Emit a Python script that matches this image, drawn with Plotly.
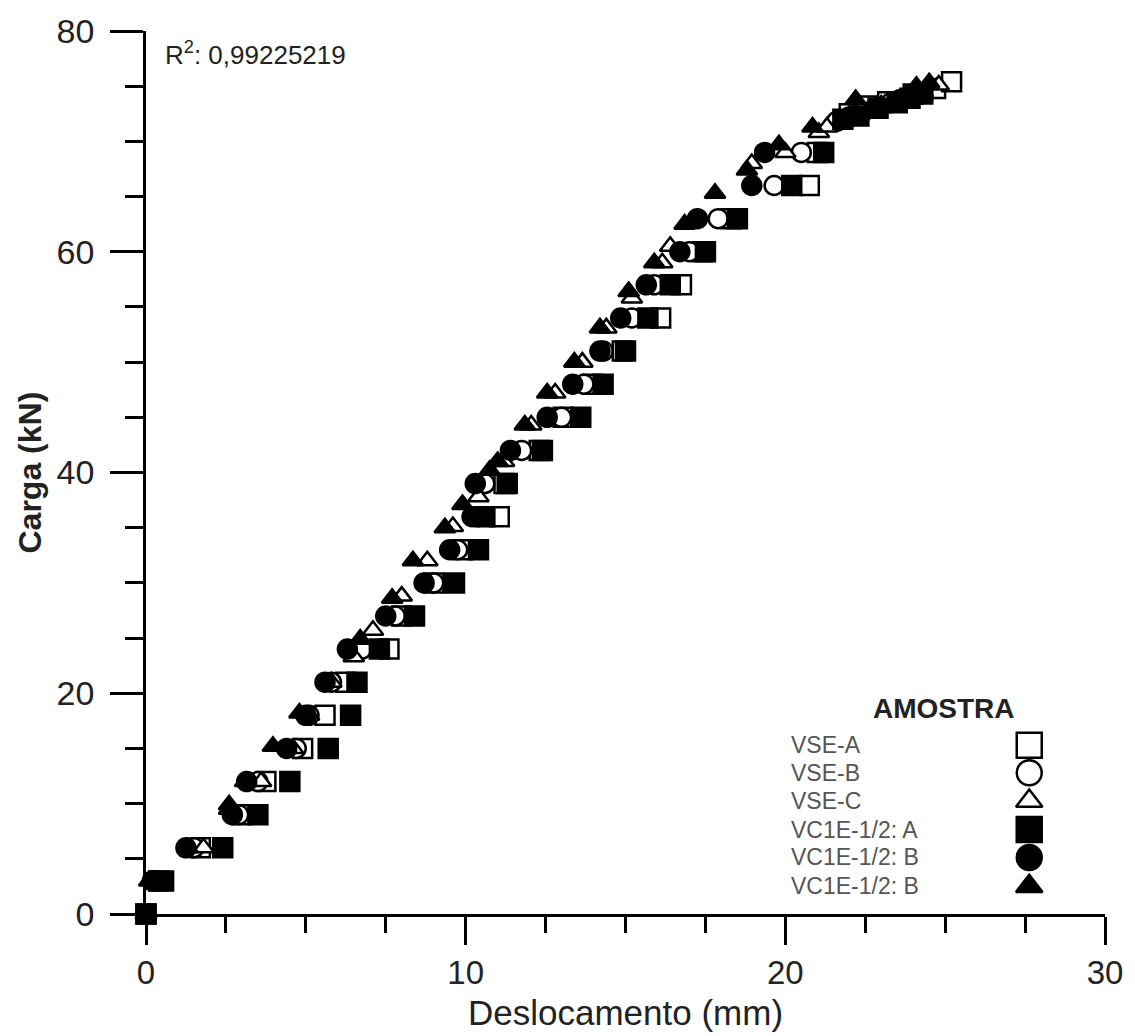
import plotly.graph_objects as go

# ---------------- data ----------------
# VSE-A (open square)
vsea_x = [0, 0.4, 1.7, 3.0, 3.75, 4.9, 5.6, 6.25, 7.6, 8.0, 9.0, 9.9, 11.05, 11.2, 12.3, 13.05, 13.95, 14.9, 16.1, 16.75, 17.4, 18.3, 20.75, 21.0, 22.0, 22.6, 23.2, 24.0, 24.7, 25.2]
vsea_y = [0, 3, 6, 9, 12, 15, 18, 21, 24, 27, 30, 33, 36, 39, 42, 45, 48, 51, 54, 57, 60, 63, 66, 69, 72.5, 73.2, 73.6, 74.3, 74.8, 75.4]

# VSE-B (open circle)
vseb_x = [0, 0.3, 1.5, 2.9, 3.5, 4.7, 5.1, 5.8, 6.75, 7.8, 9.0, 9.75, 10.4, 10.6, 11.75, 13.0, 13.7, 14.3, 15.2, 15.9, 17.0, 17.9, 19.65, 20.5, 21.6, 22.4, 23.3, 24.0]
vseb_y = [0, 3, 6, 9, 12, 15, 18, 21, 24, 27, 30, 33, 36, 39, 42, 45, 48, 51, 54, 57, 60, 63, 66, 69, 71.8, 72.6, 73.5, 74.2]

# VSE-C (open triangle)
vsec_x = [0, 0.2, 1.8, 2.6, 3.6, 4.6, 5.1, 5.8, 6.5, 7.1, 8.0, 8.8, 9.6, 10.4, 11.2, 12.05, 12.8, 13.65, 14.4, 15.2, 16.15, 16.4, 18.95, 20.0, 21.05, 21.3, 21.8, 22.6, 23.5, 24.3, 24.8]
vsec_y = [0, 3, 6, 9.5, 12, 15, 18, 21, 23.3, 25.7, 28.8, 32.0, 35.1, 37.8, 41.0, 44.3, 47.2, 50.0, 53.1, 55.8, 59.0, 60.5, 68.0, 69.0, 70.8, 71.3, 71.9, 72.8, 73.6, 74.5, 75.1]

# VC1E-1/2: A (filled square)
vca_x = [0, 0.55, 2.4, 3.5, 4.5, 5.7, 6.4, 6.6, 7.3, 8.4, 9.65, 10.4, 10.6, 11.3, 12.4, 13.6, 14.3, 15.0, 15.7, 16.4, 17.5, 18.5, 20.2, 21.2, 21.8, 22.3, 22.9, 23.5, 23.9, 24.3]
vca_y = [0, 3, 6, 9, 12, 15, 18, 21, 24, 27, 30, 33, 36, 39, 42, 45, 48, 51, 54, 57, 60, 63, 66, 69, 72.0, 72.3, 73.0, 73.5, 73.9, 74.3]

# VC1E-1/2: B (filled circle)
vcb_x = [0, 0.2, 1.25, 2.7, 3.15, 4.4, 5.0, 5.6, 6.3, 7.5, 8.7, 9.5, 10.2, 10.3, 11.4, 12.55, 13.35, 14.2, 14.85, 15.65, 16.7, 17.25, 18.95, 19.35, 22.0, 22.8, 23.6]
vcb_y = [0, 3, 6, 9, 12, 15, 18, 21, 24, 27, 30, 33, 36, 39, 42, 45, 48, 51, 54, 57, 60, 63, 66, 69, 72.2, 73.0, 73.8]

# VC1E-1/2: B (filled triangle)
vct_x = [0, 0.1, 1.3, 2.6, 3.1, 3.97, 4.8, 6.7, 7.7, 8.35, 9.35, 9.9, 10.75, 11.0, 11.85, 12.55, 13.4, 14.2, 15.1, 15.9, 16.85, 17.8, 18.8, 19.8, 20.85, 22.2, 23.0, 23.8, 24.1, 24.5]
vct_y = [0, 3, 6, 9.9, 12, 15.2, 18.2, 24.9, 28.6, 32.0, 35.0, 37.1, 40.2, 41.0, 44.3, 47.2, 50.0, 53.1, 56.4, 59.0, 62.5, 65.3, 67.4, 69.7, 71.3, 73.8, 73.3, 74.2, 75.0, 75.3]

series_names = ["VSE-A", "VSE-B", "VSE-C", "VC1E-1/2: A", "VC1E-1/2: B", "VC1E-1/2: B"]
x_ticks = [0, 10, 20, 30]
y_ticks = [0, 20, 40, 60, 80]
r2_text = "R<sup>2</sup>: 0,99225219"

FONT = "Liberation Sans, Arial, sans-serif"

# ---------------- figure ----------------
series = [
    (vsea_x, vsea_y, "square", "white"),
    (vseb_x, vseb_y, "circle", "white"),
    (vsec_x, vsec_y, "triangle-up", "white"),
    (vca_x, vca_y, "square", "black"),
    (vcb_x, vcb_y, "circle", "black"),
    (vct_x, vct_y, "triangle-up", "black"),
]

fig = go.Figure()
for (xs, ys, sym, fill), name in zip(series, series_names):
    fig.add_trace(go.Scatter(
        x=xs, y=ys, mode="markers", name=name, cliponaxis=False, showlegend=False,
        marker=dict(symbol=sym, size=19 if sym != "triangle-up" else 18, color=fill,
                    line=dict(color="black", width=2.5)),
    ))

# legend keys on an overlay axis (paper-like 0..1)
leg_y = [0.191, 0.160, 0.128, 0.0956, 0.064, 0.0315]
for (xs, ys, sym, fill), name, ly in zip(series, series_names, leg_y):
    fig.add_trace(go.Scatter(
        x=[0.921], y=[ly], xaxis="x2", yaxis="y2", mode="markers", showlegend=False,
        cliponaxis=False, hoverinfo="skip",
        marker=dict(symbol=sym, size=25 if sym != "triangle-up" else 23, color=fill,
                    line=dict(color="black", width=2.5)),
    ))
    fig.add_annotation(x=0.671, y=ly, xref="paper", yref="paper", text=name,
                       showarrow=False, xanchor="left", yanchor="middle",
                       font=dict(family=FONT, size=23, color="#555555"))

fig.add_annotation(x=0.832, y=0.233, xref="paper", yref="paper", text="<b>AMOSTRA</b>",
                   showarrow=False, xanchor="center", yanchor="middle",
                   font=dict(family=FONT, size=28, color="#222222"))

fig.add_annotation(x=0.018, y=0.975, xref="paper", yref="paper", text=r2_text,
                   showarrow=False, xanchor="left", yanchor="middle",
                   font=dict(family=FONT, size=26, color="#222222"))

# axis titles
fig.add_annotation(x=-0.122, y=0.5, xref="paper", yref="paper", text="<b>Carga (kN)</b>",
                   textangle=-90, showarrow=False, xanchor="center", yanchor="middle",
                   font=dict(family=FONT, size=32, color="#222222"))
fig.add_annotation(x=0.5, y=-0.111, xref="paper", yref="paper", text="Deslocamento (mm)",
                   showarrow=False, xanchor="center", yanchor="middle",
                   font=dict(family=FONT, size=35, color="#222222"))

y_font = dict(family=FONT, size=34, color="#222222")
x_font = dict(family=FONT, size=33, color="#222222")
fig.update_layout(
    width=1135, height=1036,
    margin=dict(l=146, r=29, t=24, b=122),
    plot_bgcolor="white", paper_bgcolor="white",
    showlegend=False,
    xaxis=dict(range=[0, 30], tickvals=x_ticks, showgrid=False, zeroline=False,
               showline=True, linecolor="black", linewidth=2.5,
               ticks="outside", ticklen=28, tickwidth=2.5, tickcolor="black",
               tickfont=x_font, ticklabelstandoff=0,
               minor=dict(dtick=2.5, tick0=0, ticks="outside", ticklen=16, tickwidth=2.5, tickcolor="black", showgrid=False)),
    yaxis=dict(range=[0, 80], tickvals=y_ticks, showgrid=False, zeroline=False,
               showline=True, linecolor="black", linewidth=2.5,
               ticks="outside", ticklen=33, tickwidth=2.5, tickcolor="black",
               tickfont=y_font, ticklabelstandoff=9,
               minor=dict(dtick=5, tick0=0, ticks="outside", ticklen=18, tickwidth=2.5, tickcolor="black", showgrid=False)),
    xaxis2=dict(range=[0, 1], overlaying="x", visible=False, fixedrange=True),
    yaxis2=dict(range=[0, 1], overlaying="y", visible=False, fixedrange=True),
)

fig.write_html("out.html")
